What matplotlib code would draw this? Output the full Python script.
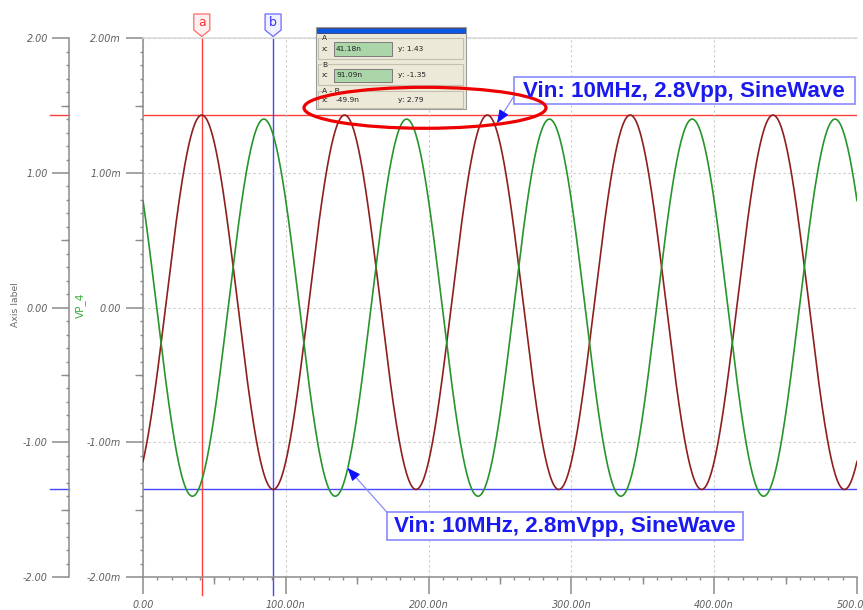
import numpy as np
import matplotlib
matplotlib.use("Agg")
import matplotlib.pyplot as plt
from matplotlib.ticker import MultipleLocator, FuncFormatter
from matplotlib.patches import Rectangle, Polygon, Ellipse

# ---- data -------------------------------------------------------------
time_range_ns = [0, 500]
vin_freq_mhz = 10

# cursor readouts (time in ns, value in V)
cursor_a = {"x": 41.18, "y": 1.43}
cursor_b = {"x": 91.09, "y": -1.35}
cursor_delta = {"x": -49.9, "y": 2.79}

# output trace (V): peak/trough at the cursor positions
out_peak_t_ns = 41.18
out_max_v = 1.43
out_min_v = -1.35

# VP_4 trace (mV)
vp4_peak_t_ns = 84.6
vp4_amp_mv = 1.40

y_ticks = [-2, -1, 0, 1, 2]
x_ticks = [0, 100, 200, 300, 400, 500]

note_v = "Vin: 10MHz, 2.8Vpp, SineWave"
note_mv = "Vin: 10MHz, 2.8mVpp, SineWave"

# ---- traces -----------------------------------------------------------
period_ns = 1000.0 / vin_freq_mhz
t = np.linspace(time_range_ns[0], time_range_ns[1], 2001)
out_mid = (out_max_v + out_min_v) / 2
out_amp = (out_max_v - out_min_v) / 2
out_trace = out_mid + out_amp * np.cos(2 * np.pi * (t - out_peak_t_ns) / period_ns)
vp4_trace = vp4_amp_mv * np.cos(2 * np.pi * (t - vp4_peak_t_ns) / period_ns)

# ---- figure -----------------------------------------------------------
W, H = 863, 610
plt.rcParams["font.family"] = ["DejaVu Sans"]
plt.rcParams["font.style"] = "italic"
fig = plt.figure(figsize=(W / 100, H / 100), dpi=100)
fig.patch.set_facecolor("white")

AX_GRAY = "#8c8c8c"
LBL_GRAY = "#5e5e5e"
RED_TRACE = "#8e1f1f"
GREEN_TRACE = "#27952b"
CUR_RED = "#ff3c3c"
CUR_BLUE = "#4646ff"

top_px, bot_px = 38.3, 577.0
ax_h = bot_px - top_px
ax = fig.add_axes([143 / W, 1 - bot_px / H, 714 / W, ax_h / H])
ax.set_xlim(*time_range_ns)
ax.set_ylim(-2, 2)
ax.patch.set_visible(False)

ax.spines["right"].set_visible(False)
ax.spines["top"].set_color("#d8d8d8")
ax.spines["top"].set_linewidth(1.1)
for s in ("left", "bottom"):
    ax.spines[s].set_color(AX_GRAY)
    ax.spines[s].set_linewidth(1.1)

ax.set_xticks(x_ticks)
ax.set_yticks(y_ticks)
ax.xaxis.set_minor_locator(MultipleLocator(10))
ax.yaxis.set_minor_locator(MultipleLocator(0.1))
ax.xaxis.set_major_formatter(FuncFormatter(lambda v, p: "0.00" if v == 0 else f"{v:.2f}n"))
ax.yaxis.set_major_formatter(FuncFormatter(lambda v, p: "0.00" if v == 0 else f"{v:.2f}m"))
ax.tick_params(which="major", length=12.2, width=1.1, color=AX_GRAY,
               labelsize=6.9, labelcolor=LBL_GRAY)
ax.tick_params(axis="x", which="major", pad=4)
ax.tick_params(axis="y", which="major", pad=3.5)
ax.tick_params(which="minor", length=2.4, width=1.0, color=AX_GRAY)

# half-division ticks
sx = ax.secondary_xaxis("bottom")
sx.set_xticks([50, 150, 250, 350, 450])
sx.tick_params(length=5.2, width=1.0, color=AX_GRAY, labelbottom=False)
sx.spines["bottom"].set_visible(False)
sy = ax.secondary_yaxis("left")
sy.set_yticks([-1.5, -0.5, 0.5, 1.5])
sy.tick_params(length=5.8, width=1.0, color=AX_GRAY, labelleft=False)
sy.spines["left"].set_visible(False)

ax.grid(True, which="major", linestyle=(0, (2, 2.5)), color="#c9c9c9", linewidth=0.8)

# cursor lines
ax.axhline(cursor_a["y"], color=CUR_RED, lw=1.0, zorder=1.5)
ax.axhline(cursor_b["y"], color=CUR_BLUE, lw=1.0, zorder=1.5)
ax.axvline(cursor_a["x"], ymin=-18 / ax_h, ymax=1.0, clip_on=False, color=CUR_RED, lw=1.0, zorder=1.5)
ax.axvline(cursor_b["x"], ymin=-18 / ax_h, ymax=1.0, clip_on=False, color=CUR_BLUE, lw=1.0, zorder=1.5)

# traces
ax.plot(t, out_trace, color=RED_TRACE, lw=1.2, zorder=3)
ax.plot(t, vp4_trace, color=GREEN_TRACE, lw=1.2, zorder=3)

# outer (volt) axis
ax2_w = 74.0
ax2 = fig.add_axes([69 / W, 1 - bot_px / H, ax2_w / W, ax_h / H])
ax2.set_ylim(-2, 2)
ax2.set_xlim(0, 1)
ax2.patch.set_visible(False)
for s in ("top", "right", "bottom"):
    ax2.spines[s].set_visible(False)
ax2.spines["left"].set_color(AX_GRAY)
ax2.spines["left"].set_linewidth(1.1)
ax2.set_xticks([])
ax2.set_yticks(y_ticks)
ax2.yaxis.set_minor_locator(MultipleLocator(0.1))
ax2.yaxis.set_major_formatter(FuncFormatter(lambda v, p: f"{v:.2f}"))
ax2.tick_params(axis="y", which="major", length=12.2, width=1.1, color=AX_GRAY,
                labelsize=6.9, labelcolor=LBL_GRAY, pad=3)
ax2.tick_params(axis="y", which="minor", length=2.4, width=1.0, color=AX_GRAY)
sy2 = ax2.secondary_yaxis("left")
sy2.set_yticks([-1.5, -0.5, 0.5, 1.5])
sy2.tick_params(length=5.8, width=1.0, color=AX_GRAY, labelleft=False)
sy2.spines["left"].set_visible(False)
ax2.axhline(cursor_a["y"], xmin=-19 / ax2_w, xmax=0, clip_on=False, color=CUR_RED, lw=1.0)
ax2.axhline(cursor_b["y"], xmin=-19 / ax2_w, xmax=0, clip_on=False, color=CUR_BLUE, lw=1.0)

fig.text(16 / W, 1 - 305 / H, "Axis label", rotation=90, ha="center", va="center",
         fontsize=6.7, color="#6a6a6a", fontstyle="normal")
fig.text(80 / W, 1 - 305 / H, "VP_4", rotation=90, ha="center", va="center",
         fontsize=7.6, color="#3fae3f", fontstyle="normal")

# ---- overlay in pixel coordinates --------------------------------------
ov = fig.add_axes([0, 0, 1, 1], zorder=10)
ov.set_xlim(0, W)
ov.set_ylim(H, 0)
ov.axis("off")
ov.patch.set_visible(False)


def to_px(x, y):
    dx, dy = ax.transData.transform((x, y))
    return dx, H - dy


# cursor flags
for cur, name, edge, fill, txt in ((cursor_a, "a", "#ff6a6a", "#fff0f0", "#ff3030"),
                                   (cursor_b, "b", "#6a6aff", "#f0f0ff", "#3030ff")):
    cx, _ = to_px(cur["x"], 0)
    flag = Polygon([(cx - 8, 14), (cx + 8, 14), (cx + 8, 30), (cx, 36.5), (cx - 8, 30)],
                   closed=True, facecolor=fill, edgecolor=edge, lw=0.9)
    ov.add_patch(flag)
    ov.text(cx, 22.5, name, ha="center", va="center", fontsize=9, color=txt,
            fontstyle="normal")

# cursor readout panel
PANEL = "#ece9d8"
ov.add_patch(Rectangle((316, 26.7), 150, 81.8, facecolor=PANEL, edgecolor="#9a9a9a", lw=0.8))
ov.add_patch(Rectangle((317, 28.2), 148, 4.3, facecolor="#0a58e6", edgecolor="#3a3a6a", lw=0.6))
pfont = dict(fontsize=5.4, color="#202020", fontstyle="normal", va="center")
groups = [
    ("A", 37.5, 21.0, f"{cursor_a['x']:.2f}n", f"y: {cursor_a['y']:.2f}", True),
    ("B", 64.2, 21.0, f"{cursor_b['x']:.2f}n", f"y: {cursor_b['y']:.2f}", True),
    ("A - B", 90.6, 17.6, f"{cursor_delta['x']:.1f}n", f"y: {cursor_delta['y']:.2f}", False),
]
for name, gy, gh, xval, yval, field in groups:
    ov.add_patch(Rectangle((317.8, gy), 145.2, gh, facecolor="none", edgecolor="#c4c0ae", lw=0.8))
    ov.text(322, gy + 0.8, name, ha="left", bbox=dict(facecolor=PANEL, edgecolor="none", pad=0.3), **pfont)
    row_y = gy + 11.2 if field else gy + 9.6
    ov.text(322, row_y, "x:", ha="left", **pfont)
    if field:
        ov.add_patch(Rectangle((334.3, gy + 4.6), 57.4, 13.4, facecolor="#aad6aa",
                               edgecolor="#7a7a7a", lw=0.7))
    ov.text(336, row_y, xval, ha="left", **pfont)
    ov.text(398, row_y, yval, ha="left", **pfont)

# highlight ellipse
ov.add_patch(Ellipse((425, 107.8), 242, 41, facecolor="none", edgecolor="#ee0000", lw=2.3, zorder=12))

# note boxes with arrows
NOTE_EDGE = "#8a8aff"
NOTE_TXT = "#1a1af0"
notes = [
    (note_v, (513.6, 77.0, 341.4, 27.0), (514, 96), (247.9, 1.37)),
    (note_mv, (387.0, 512.3, 355.6, 27.9), (387, 512.3), (143.2, -1.19)),
]
for text, (bx, by, bw, bh), src, tip in notes:
    tx, ty = to_px(*tip)
    ov.annotate("", xy=(tx, ty), xytext=src,
                arrowprops=dict(arrowstyle="-", color=NOTE_EDGE, lw=0.9, shrinkA=0, shrinkB=0))
    d = np.array(src) - np.array([tx, ty])
    d = d / np.hypot(*d)
    hs = (tx + 12 * d[0], ty + 12 * d[1])
    ov.annotate("", xy=(tx, ty), xytext=hs,
                arrowprops=dict(arrowstyle="-|>,head_length=0.8,head_width=0.32", mutation_scale=10,
                                fc="#1010ff", ec="#1010ff", lw=0.8, shrinkA=0, shrinkB=0))
    ov.add_patch(Rectangle((bx, by), bw, bh, facecolor="white", edgecolor=NOTE_EDGE, lw=1.2, zorder=11))
    ov.text(bx + bw / 2, by + bh / 2 + 0.5, text, ha="center", va="center", fontsize=16.1,
            family="Liberation Sans", fontweight="bold", fontstyle="normal", color=NOTE_TXT, zorder=12)

fig.savefig("out.png", dpi=100, facecolor="white")
